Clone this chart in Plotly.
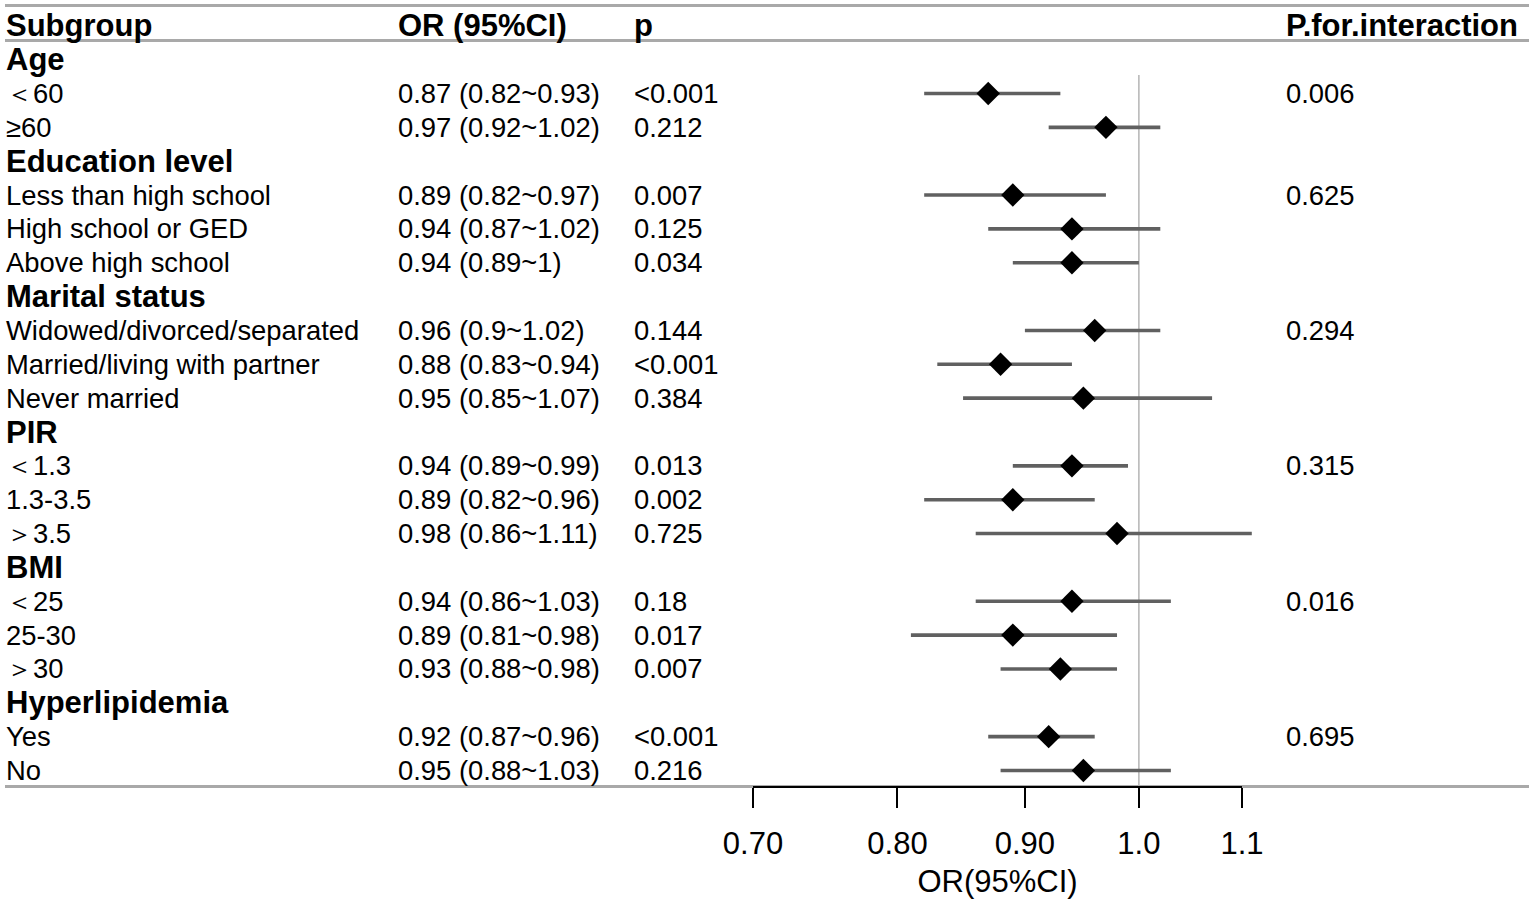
import math
import plotly.graph_objects as go

# ---------------- data ----------------
subgroups = ["Age", "＜60", "≥60",
             "Education level", "Less than high school", "High school or GED", "Above high school",
             "Marital status", "Widowed/divorced/separated", "Married/living with partner", "Never married",
             "PIR", "＜1.3", "1.3-3.5", "＞3.5",
             "BMI", "＜25", "25-30", "＞30",
             "Hyperlipidemia", "Yes", "No"]
is_header = [True, False, False,
             True, False, False, False,
             True, False, False, False,
             True, False, False, False,
             True, False, False, False,
             True, False, False]
or_est = [None, 0.87, 0.97,
          None, 0.89, 0.94, 0.94,
          None, 0.96, 0.88, 0.95,
          None, 0.94, 0.89, 0.98,
          None, 0.94, 0.89, 0.93,
          None, 0.92, 0.95]
ci_low = [None, 0.82, 0.92,
          None, 0.82, 0.87, 0.89,
          None, 0.90, 0.83, 0.85,
          None, 0.89, 0.82, 0.86,
          None, 0.86, 0.81, 0.88,
          None, 0.87, 0.88]
ci_high = [None, 0.93, 1.02,
           None, 0.97, 1.02, 1.00,
           None, 1.02, 0.94, 1.07,
           None, 0.99, 0.96, 1.11,
           None, 1.03, 0.98, 0.98,
           None, 0.96, 1.03]
or_text = ["", "0.87 (0.82~0.93)", "0.97 (0.92~1.02)",
           "", "0.89 (0.82~0.97)", "0.94 (0.87~1.02)", "0.94 (0.89~1)",
           "", "0.96 (0.9~1.02)", "0.88 (0.83~0.94)", "0.95 (0.85~1.07)",
           "", "0.94 (0.89~0.99)", "0.89 (0.82~0.96)", "0.98 (0.86~1.11)",
           "", "0.94 (0.86~1.03)", "0.89 (0.81~0.98)", "0.93 (0.88~0.98)",
           "", "0.92 (0.87~0.96)", "0.95 (0.88~1.03)"]
p_text = ["", "<0.001", "0.212",
          "", "0.007", "0.125", "0.034",
          "", "0.144", "<0.001", "0.384",
          "", "0.013", "0.002", "0.725",
          "", "0.18", "0.017", "0.007",
          "", "<0.001", "0.216"]
p_interaction = ["", "0.006", "",
                 "", "0.625", "", "",
                 "", "0.294", "", "",
                 "", "0.315", "", "",
                 "", "0.016", "", "",
                 "", "0.695", ""]
header_labels = ["Subgroup", "OR (95%CI)", "p", "P.for.interaction"]
tick_vals = [0.70, 0.80, 0.90, 1.0, 1.1]
tick_text = ["0.70", "0.80", "0.90", "1.0", "1.1"]
axis_title = "OR(95%CI)"
ref_value = 1.0

# ---------------- layout geometry ----------------
W, H = 1535, 905
FONT = "Liberation Sans, Arial, sans-serif"
col_px = [4, 396, 632, 1284]
ax_left_px, ax_right_px = 753, 1242          # pixel span of 0.70 .. 1.1
ppu = (ax_right_px - ax_left_px) / (math.log10(tick_vals[-1]) - math.log10(tick_vals[0]))
x_lo = math.log10(tick_vals[0]) - ax_left_px / ppu
x_hi = math.log10(tick_vals[-1]) + (W - ax_right_px) / ppu

row0_px, row_step = 25.8, 33.85              # row index 0 = header row
y_top = -row0_px / row_step
y_bot = (H - row0_px) / row_step

n = len(subgroups)
rows = list(range(1, n + 1))


def ypaper(px):
    return 1 - px / H


fig = go.Figure()

# CI segments
ci_x, ci_y = [], []
for r, lo, hi in zip(rows, ci_low, ci_high):
    if lo is None:
        continue
    ci_x += [lo, hi, None]
    ci_y += [r, r, None]
fig.add_trace(go.Scatter(x=ci_x, y=ci_y, mode="lines",
                         line=dict(color="#606060", width=3.6),
                         hoverinfo="skip", showlegend=False))
# point estimates
pts = [(r, e) for r, e in zip(rows, or_est) if e is not None]
fig.add_trace(go.Scatter(x=[e for _, e in pts], y=[r for r, _ in pts], mode="markers",
                         marker=dict(symbol="diamond", size=18, color="black", line=dict(width=0)),
                         showlegend=False))
# invisible trace to hold the visible axis
fig.add_trace(go.Scatter(x=tick_vals, y=[rows[-1]] * len(tick_vals), xaxis="x2", yaxis="y",
                         mode="markers", marker=dict(opacity=0), hoverinfo="skip", showlegend=False))

# reference line
fig.add_shape(type="line", xref="x", yref="y", x0=ref_value, x1=ref_value,
              y0=1.45, y1=(786.5 - row0_px) / row_step,
              line=dict(color="#b4b4b4", width=1.5), layer="below")

# horizontal rules
for py in [5.5, 40.5, 786.5]:
    fig.add_shape(type="line", xref="paper", yref="paper", x0=5 / W, x1=1529 / W,
                  y0=ypaper(py), y1=ypaper(py), line=dict(color="#a9a9a9", width=3), layer="below")

# header text
for lab, px in zip(header_labels, col_px):
    fig.add_annotation(x=px / W, xref="paper", y=0, yref="y", text="<b>%s</b>" % lab,
                       showarrow=False, xanchor="left", yanchor="middle",
                       font=dict(family=FONT, size=31, color="black"))

# table text
for r, sg, hd, ot, pt, pi in zip(rows, subgroups, is_header, or_text, p_text, p_interaction):
    items = [(sg, col_px[0], hd), (ot, col_px[1], False), (pt, col_px[2], False), (pi, col_px[3], False)]
    for txt, px, bold in items:
        if not txt:
            continue
        fig.add_annotation(x=px / W, xref="paper", y=r, yref="y",
                           text=("<b>%s</b>" % txt) if bold else txt,
                           showarrow=False, xanchor="left", yanchor="middle",
                           font=dict(family=FONT, size=31 if bold else 27.4, color="black"))

fig.update_layout(
    width=W, height=H,
    margin=dict(l=0, r=0, t=0, b=0, pad=0, autoexpand=False),
    plot_bgcolor="rgba(0,0,0,0)", paper_bgcolor="white",
    showlegend=False,
    xaxis=dict(type="log", range=[x_lo, x_hi], domain=[0, 1], visible=False, fixedrange=True),
    yaxis=dict(range=[y_bot, y_top], domain=[0, 1], visible=False, fixedrange=True),
    xaxis2=dict(type="log", range=[math.log10(tick_vals[0]), math.log10(tick_vals[-1])],
                domain=[ax_left_px / W, ax_right_px / W], anchor="free", position=ypaper(786.7),
                showline=True, linecolor="black", linewidth=2,
                ticks="outside", ticklen=20, tickwidth=2, tickcolor="black",
                tickvals=tick_vals, ticktext=tick_text, ticklabelstandoff=9,
                tickfont=dict(family=FONT, size=31, color="black"),
                showgrid=False, zeroline=False, fixedrange=True, automargin=False,
                title=dict(text=axis_title, font=dict(family=FONT, size=31, color="black"), standoff=9)),
)

fig.write_html("out.html", config={"displayModeBar": False},
               post_script="document.body.style.margin='0px';")
